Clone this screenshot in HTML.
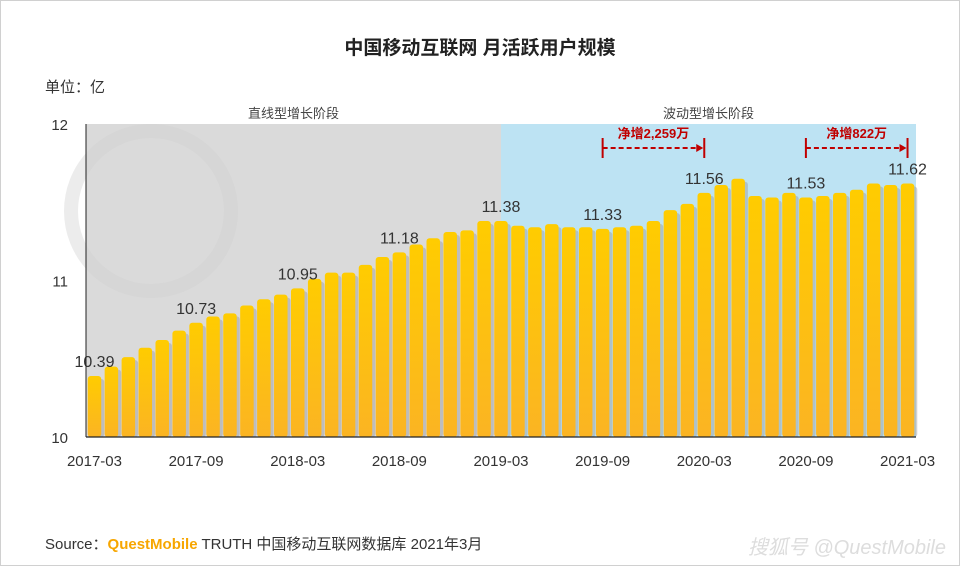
<!DOCTYPE html>
<html><head><meta charset="utf-8">
<style>
body{margin:0;background:#fff;font-family:"Liberation Sans","Noto Sans CJK SC",sans-serif;}
#wrap{position:relative;width:958px;height:564px;border:1px solid #d0d0d0;overflow:hidden;background:#fff}
</style></head>
<body>
<div id="wrap">
<svg id="chart" width="958" height="564">
<defs>
<linearGradient id="g" x1="0" y1="0" x2="0" y2="1"><stop offset="0" stop-color="#ffcc00"/><stop offset="1" stop-color="#fbb423"/></linearGradient>
</defs>
<text x="479" y="53" text-anchor="middle" font-size="19" font-weight="bold" fill="#222">中国移动互联网 月活跃用户规模</text>
<text x="44" y="91" font-size="15" fill="#333">单位：亿</text>
<g id="bg"></g>
<g id="marks"></g>
<g id="axes"></g>
<text x="44" y="548" font-size="15" fill="#333">Source：<tspan fill="#f7a600" font-weight="bold">QuestMobile</tspan> TRUTH 中国移动互联网数据库 2021年3月</text>
<text x="945" y="553" text-anchor="end" font-size="20" fill="#ddd" font-style="italic">搜狐号 @QuestMobile</text>
</svg>
</div>
<script>
const categories=[];for(let y=2017,m=3;categories.length<49;){categories.push(y+'-'+String(m).padStart(2,'0'));m++;if(m>12){m=1;y++;}}
const values=[10.39,10.45,10.51,10.57,10.62,10.68,10.73,10.77,10.79,10.84,10.88,10.91,10.95,11.01,11.05,11.05,11.10,11.15,11.18,11.23,11.27,11.31,11.32,11.38,11.38,11.35,11.34,11.36,11.34,11.34,11.33,11.34,11.35,11.38,11.45,11.49,11.56,11.61,11.65,11.54,11.53,11.56,11.53,11.54,11.56,11.58,11.62,11.61,11.62];
const labelIdx=[0,6,12,18,24,30,36,42,48];
const yTicks=[10,11,12];
const xTickIdx=[0,6,12,18,24,30,36,42,48];
const ns='http://www.w3.org/2000/svg';
const X0=85,X1=915,Y0=436,Y1=123,step=(X1-X0)/49;
const xs=i=>X0+step*(i+0.5);
const ys=v=>Y0-(v-10)/(12-10)*(Y0-Y1);
function mk(tag,attrs,parent,txt){const e=document.createElementNS(ns,tag);for(const k in attrs)e.setAttribute(k,attrs[k]);if(txt!==undefined)e.textContent=txt;parent.appendChild(e);return e;}
const bg=document.getElementById('bg'),marks=document.getElementById('marks'),axes=document.getElementById('axes');
const split=500;
let r=mk('rect',{x:X0,y:Y1,width:split-X0,height:Y0-Y1,fill:'#dadada'},bg);


r=mk('rect',{x:split,y:Y1,width:X1-split,height:Y0-Y1,fill:'#bde3f3'},bg);


let c=mk('circle',{cx:150,cy:210,r:80,fill:'none',stroke:'#cfcfcf','stroke-width':14,opacity:0.4},bg);


let t=mk('text',{x:(X0+split)/2,y:117,'text-anchor':'middle','font-size':13,fill:'#444'},bg,'直线型增长阶段');


t=mk('text',{x:(split+X1)/2,y:117,'text-anchor':'middle','font-size':13,fill:'#444'},bg,'波动型增长阶段');


const bw=13.5;
values.forEach((v,i)=>{
 const x=xs(i)-bw/2,y=ys(v);
 const s=mk('rect',{x:x+3,y:y+3,width:bw,height:Y0-y-3,rx:3,fill:'#999',opacity:0.45},marks);
 
 
 const b=mk('rect',{x:x,y:y,width:bw,height:Y0-y,rx:3,fill:'url(#g)'},marks);
 
 
});
labelIdx.forEach(i=>{
 const l=mk('text',{x:xs(i),y:ys(values[i])-9,'text-anchor':'middle','font-size':16,fill:'#333'},marks,values[i].toFixed(2));
 
 
});
function ann(i0,i1,txt,name){
 const a=xs(i0),b=xs(i1),y=147;
 const g=mk('g',{},marks);
 
 
 mk('line',{x1:a,y1:y,x2:b-6,y2:y,stroke:'#c00000','stroke-width':2,'stroke-dasharray':'5,3'},g);
 mk('line',{x1:a,y1:y-10,x2:a,y2:y+10,stroke:'#c00000','stroke-width':2},g);
 mk('line',{x1:b,y1:y-10,x2:b,y2:y+10,stroke:'#c00000','stroke-width':2},g);
 mk('polygon',{points:`${b-1},${y} ${b-8},${y-4} ${b-8},${y+4}`,fill:'#c00000'},g);
 mk('text',{x:(a+b)/2,y:y-10,'text-anchor':'middle','font-size':13,'font-weight':'bold',fill:'#c00000'},g,txt);
}
ann(30,36,'净增2,259万','annotation-2019-2020');
ann(42,48,'净增822万','annotation-2020-2021');
let ax=mk('line',{x1:X0,y1:Y1,x2:X0,y2:Y0,stroke:'#222','stroke-width':1},axes);


ax=mk('line',{x1:X0,y1:Y0,x2:X1,y2:Y0,stroke:'#222','stroke-width':1.2},axes);


yTicks.forEach(v=>{
 const l=mk('text',{x:67,y:ys(v)+6,'text-anchor':'end','font-size':15,fill:'#333'},axes,String(v));
 
 
});
xTickIdx.forEach(i=>{
 const l=mk('text',{x:xs(i),y:465,'text-anchor':'middle','font-size':15,fill:'#333'},axes,categories[i]);
 
 
});
</script>
</body></html>
